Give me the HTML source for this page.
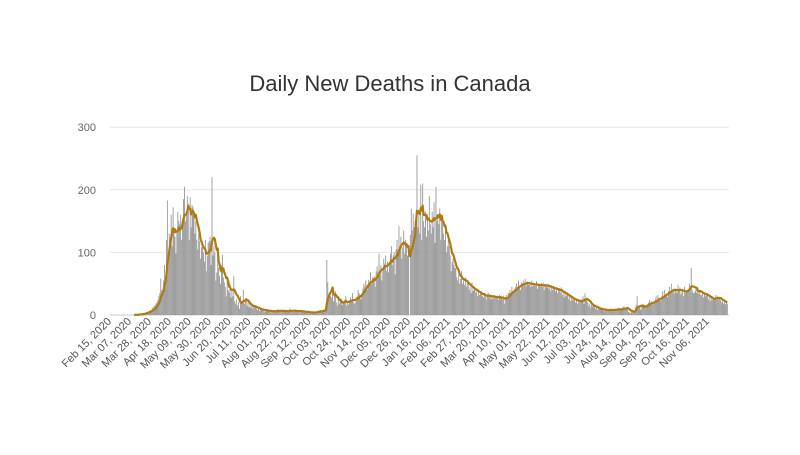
<!DOCTYPE html>
<html><head><meta charset="utf-8"><style>
body{margin:0;background:#fff;font-family:"Liberation Sans",sans-serif}
</style></head><body>
<svg id="chart" width="800" height="450" xmlns="http://www.w3.org/2000/svg">
<text x="390" y="91" text-anchor="middle" font-size="22" fill="#333">Daily New Deaths in Canada</text>
<g id="grid"></g><g id="bars"></g><g id="line"></g><g id="xlabels"></g><g id="ylabels"></g>
</svg>
<script>
const startDate = [2020, 1, 15];
const dailyDeaths = [
0,0,0,0,0,0,0, 0,0,0,0,0,0,0, 0,0,0,0,0,0,0, 0,0,0,0,1,0,1,
0,1,1,2,1,1,2, 2,3,4,5,3,6,5, 8,7,12,10,15,14,18, 20,24,30,35,58,40,38,
55,80,60,120,183,95,130, 120,160,110,172,140,125,98, 130,165,150,145,160,120,152,
185,205,150,160,190,178,120, 188,140,176,172,165,130,150, 120,105,130,118,90,108,112,
100,85,120,70,95,115,118, 125,80,220,95,110,100,55, 68,95,75,62,50,80,96,
60,52,45,30,55,40,36, 50,28,42,30,62,22,18, 25,15,20,10,30,18,22,
40,18,24,25,15,20,12, 18,12,15,10,16,14,12, 10,8,12,6,9,10,8,
8,5,9,6,7,8,6, 6,4,8,5,7,6,5, 7,9,5,8,6,7,6, 5,8,6,7,4,6,6,
10,6,7,8,5,6,7, 6,5,8,7,4,6,6, 4,6,5,3,6,5,4, 3,4,5,3,5,4,4,
5,6,7,5,8,6,5, 7,9,8,10,88,52,30, 35,30,28,45,22,33,38, 20,15,25,18,24,22,16,
18,22,25,30,15,20,17, 22,28,25,35,20,18,20, 28,30,40,35,32,25,34,
42,50,45,55,48,40,56, 52,68,50,60,55,62,45, 70,78,62,98,65,80,55,
75,90,82,95,70,85,68, 85,98,110,80,95,100,65, 105,120,100,142,110,125,90,
108,135,98,120,115,95,100, 0,128,170,135,162,140,150, 155,255,140,160,130,208,120,
210,150,140,165,125,155,135, 190,145,130,165,140,180,115, 205,150,160,145,170,120,160,
150,130,120,145,100,110,120, 110,95,70,85,90,80,75, 75,60,55,65,50,58,70,
50,55,48,60,45,52,54, 40,45,35,52,38,40,44, 35,38,30,40,32,36,34,
30,28,35,30,25,33,36, 28,30,25,32,26,30,32, 26,30,28,24,32,28,27,
25,30,18,28,32,26,35, 35,40,32,45,38,36,42, 45,50,42,55,46,40,52,
50,55,48,58,46,52,50, 48,52,45,55,46,50,47, 46,54,42,50,48,45,51,
45,52,40,50,48,44,50, 42,48,38,45,40,46,42, 38,45,35,42,40,36,44,
32,36,28,38,30,34,33, 25,30,22,28,24,26,27, 20,25,18,24,20,22,25,
22,30,18,35,24,26,20, 15,18,12,16,14,17,13, 10,12,8,11,9,10,10,
8,9,6,10,7,8,8, 7,9,8,10,6,8,8, 9,10,8,12,7,9,8, 10,12,14,9,11,12,9,
5,4,3,6,4,8,5, 12,16,30,10,14,12,8, 14,18,12,16,15,13,17,
20,24,18,22,16,20,20, 25,30,22,32,24,26,23, 30,38,28,40,32,34,29,
38,45,35,50,36,42,34, 40,42,35,48,38,44,33, 36,42,30,45,35,40,38,
42,50,38,75,40,35,35, 38,45,35,42,34,40,32, 32,38,28,36,30,35,32,
25,30,22,28,24,27,26, 26,32,24,30,25,28,24, 20,22,18,24,17,21,18
];
const yTicks = [0, 100, 200, 300];
const tickEvery = 21;
const months = ["Jan","Feb","Mar","Apr","May","Jun","Jul","Aug","Sep","Oct","Nov","Dec"];

const NS = "http://www.w3.org/2000/svg";
const X0 = 110, PX_PER_DAY = 0.949, Y0 = 315, PX_PER_UNIT = 62.6/100, XR = 729;
const xs = d => X0 + d * PX_PER_DAY;
const ys = v => Y0 - v * PX_PER_UNIT;
function mk(tag, attrs, parent){const e=document.createElementNS(NS,tag);for(const k in attrs)e.setAttribute(k,attrs[k]);parent.appendChild(e);return e;}

const grid=document.getElementById('grid'), yl=document.getElementById('ylabels');
yTicks.forEach(t=>{
  const l=mk('line',{x1:X0,x2:XR,y1:ys(t),y2:ys(t),stroke:t===0?'#ccc':'#e6e6e6','stroke-width':1},grid);
  
  
  const tx=mk('text',{x:96,y:ys(t)+4,'text-anchor':'end','font-size':11,fill:'#666'},yl);
  tx.textContent=t;
  
  
});

const bars=document.getElementById('bars');
dailyDeaths.forEach((v,i)=>{
  if(v<=0) return;
  const r=mk('rect',{x:xs(i),y:ys(v),width:0.9,height:v*PX_PER_UNIT,fill:'#999'},bars);
  
  
});

let pts=[];
dailyDeaths.forEach((v,i)=>{
  if(i<25) return;
  let s=0,n=0;for(let j=Math.max(0,i-6);j<=i;j++){s+=dailyDeaths[j];n++;}
  pts.push(xs(i+0.5).toFixed(2)+','+ys(s/n).toFixed(2));
});
const pl=mk('polyline',{points:pts.join(' '),fill:'none',stroke:'#b07a12','stroke-width':2.2,'stroke-linejoin':'round'},document.getElementById('line'));



const xl=document.getElementById('xlabels');
for(let d=0; d<dailyDeaths.length-10; d+=tickEvery){
  const dt=new Date(startDate[0],startDate[1],startDate[2]+d);
  const lab=months[dt.getMonth()]+' '+String(dt.getDate()).padStart(2,'0')+', '+dt.getFullYear();
  const x=xs(d)+2, y=322;
  const t=mk('text',{x:x,y:y,'text-anchor':'end','font-size':11,fill:'#555',transform:`rotate(-45 ${x} ${y})`},xl);
  t.textContent=lab;
  
  
}
</script>
</body></html>
